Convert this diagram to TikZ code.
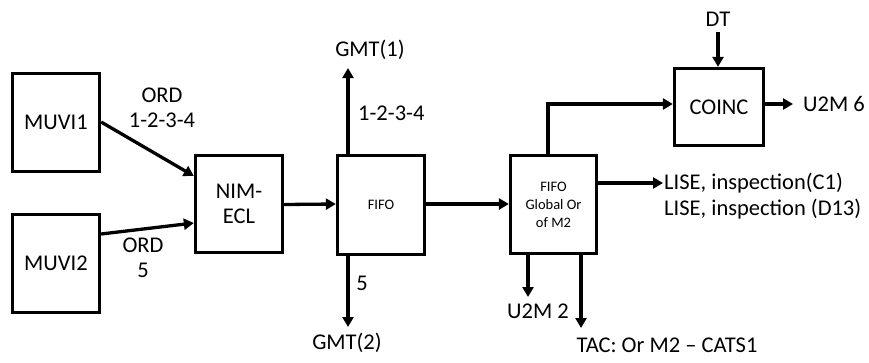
\documentclass[tikz,border=0pt]{standalone}
\usepackage{fontspec}
\setmainfont{Carlito}
\usetikzlibrary{arrows.meta,calc}
\begin{document}
\begin{tikzpicture}[x=1pt,y=-1pt,
  big/.style={font=\fontsize{22.5}{25}\selectfont},
  small/.style={font=\fontsize{14.5}{18}\selectfont},
  blk/.style={draw=black,line width=3.3pt,inner sep=0pt,align=center},
  lbl/.style={big,inner sep=0pt,align=center},
  conn/.style={line width=3.3pt,-{Triangle[length=10pt,width=11pt]}},
  plain/.style={line width=3.3pt}]
\useasboundingbox (0,0) rectangle (869,362);
% boxes
\node[blk,big,minimum width=87pt,minimum height=98pt] (m1) at (56,122.5) {MUVI1};
\node[blk,big,minimum width=87pt,minimum height=98pt] (m2) at (56,263.5) {MUVI2};
\node[blk,big,minimum width=87pt,minimum height=97pt] (nim) at (239,204) {NIM-\\ECL};
\node[blk,small,minimum width=87pt,minimum height=99pt] (fifo) at (381,205) {FIFO};
\node[blk,small,minimum width=86pt,minimum height=98pt] (fifo2) at (553.5,204.5) {FIFO\\Global Or\\of M2};
\node[blk,big,minimum width=89pt,minimum height=77pt] (coinc) at (719,107) {COINC};
% labels
\node[lbl] (ord1) at (162,108) {ORD\\1-2-3-4};
\node[lbl] (ord5) at (143,258) {ORD\\5};
\node[lbl] (gmt1) at (370,50) {GMT(1)};
\node[lbl,anchor=west] (l1234) at (358,113) {1-2-3-4};
\node[lbl] (l5) at (362,283) {5};
\node[lbl] (gmt2) at (347,343) {GMT(2)};
\node[lbl] (dt) at (718,19) {DT};
\node[lbl,anchor=west] (u2m6) at (803,104) {U2M 6};
\node[lbl,anchor=west] (lise1) at (664,183) {LISE, inspection(C1)};
\node[lbl,anchor=west] (lise2) at (664,209) {LISE, inspection (D13)};
\node[lbl] (u2m2) at (538,311) {U2M 2};
\node[lbl] (tac) at (667,345) {TAC: Or M2 – CATS1};
% coordinates
\coordinate (g1tip) at (348,68);
\coordinate (g2tip) at (348,327);
\coordinate (dttop) at (718,32);
\coordinate (u6tip) at (793,104);
\coordinate (lisetip) at (663,183);
\coordinate (u2tip) at (528,297);
\coordinate (tactip) at (581,328);
\coordinate (bend) at (548,104);
% connectors
\draw[conn] ([yshift=0.5pt]m1.east) -- ([yshift=28pt]nim.west);
\draw[conn] ([yshift=29.5pt]m2.east) -- ([yshift=-19pt]nim.west);
\draw[conn] ([yshift=-0.5pt]nim.east) -- ([yshift=1pt]fifo.west);
\draw[conn] ([xshift=-33pt]fifo.north) -- (g1tip);
\draw[conn] ([xshift=-33pt]fifo.south) -- (g2tip);
\draw[conn] ([yshift=1pt]fifo.east) -- ([yshift=0.5pt]fifo2.west);
\draw[conn] ([xshift=-5.5pt]fifo2.north) -- (bend) -- ([yshift=3pt]coinc.west);
\draw[conn] (dttop) -- ([xshift=-1pt]coinc.north);
\draw[conn] ([yshift=3pt]coinc.east) -- (u6tip);
\draw[conn] ([yshift=21.5pt]fifo2.east) -- (lisetip);
\draw[conn] ([xshift=-25.5pt]fifo2.south) -- (u2tip);
\draw[conn] ([xshift=27.5pt]fifo2.south) -- (tactip);
\end{tikzpicture}
\end{document}
